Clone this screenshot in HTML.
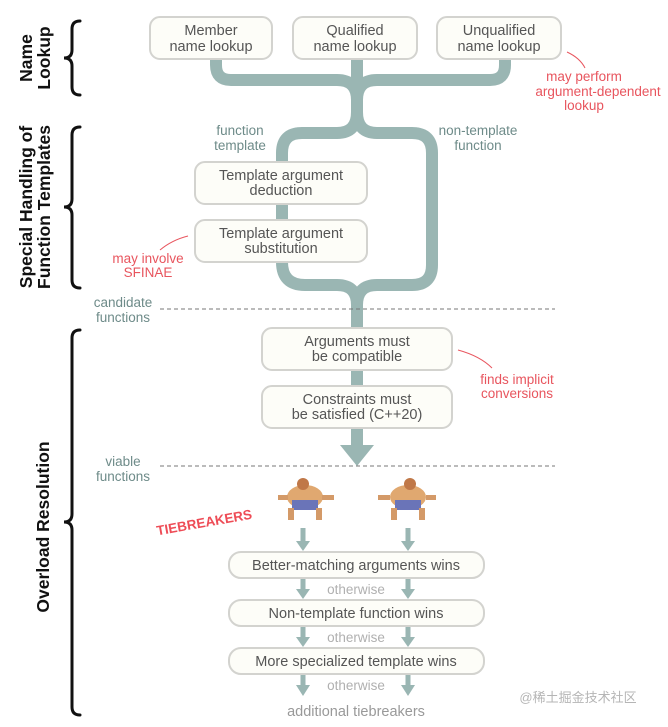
<!DOCTYPE html>
<html><head><meta charset="utf-8"><style>
html,body{margin:0;padding:0;background:#fff;width:668px;height:727px;overflow:hidden}
svg{display:block}
text{font-family:"Liberation Sans","Noto Sans CJK SC",sans-serif}
.bx{fill:#fdfdf8;stroke:#d3d3cf;stroke-width:2}
.t{fill:#555;font-size:14.5px;text-anchor:middle}
.g{fill:#6e8b89;font-size:13.5px;text-anchor:middle}
.r{fill:#e8555e;font-size:13.5px;text-anchor:middle}
.o{fill:#b0b0b0;font-size:13.5px;text-anchor:middle}
.p{fill:none;stroke:#9ab6b3;stroke-width:12}
.a{fill:none;stroke:#9ab6b3;stroke-width:5}
.ah{fill:#9ab6b3}
.br{fill:none;stroke:#111;stroke-width:3;stroke-linecap:round}
.lb{font-weight:bold;font-size:17.5px;fill:#111;text-anchor:middle}
</style></head><body>
<svg width="668" height="727" viewBox="0 0 668 727">
<path class="p" d="M216 58 V65 Q216 80 231 80 H337 Q357 80 357 100 M357 58 V112 M505 58 V65 Q505 80 490 80 H377 Q357 80 357 100"/>
<path class="p" d="M357 112 Q357 133 337 133 H302 Q282 133 282 153 V262 Q282 285 305 285 H337 Q357 285 357 305"/>
<path class="p" d="M357 112 Q357 133 377 133 H412 Q432 133 432 153 V265 Q432 285 412 285 H377 Q357 285 357 305"/>
<path class="p" d="M357 300 V448"/>
<polygon class="ah" points="340,445 374,445 357,466"/>
<line x1="160" y1="309" x2="555" y2="309" stroke="#777" stroke-dasharray="4,3" stroke-width="1"/>
<line x1="160" y1="466" x2="555" y2="466" stroke="#777" stroke-dasharray="4,3" stroke-width="1"/>
<rect class="bx" x="150" y="17" width="122" height="42" rx="10"/>
<rect class="bx" x="293" y="17" width="124" height="42" rx="10"/>
<rect class="bx" x="437" y="17" width="124" height="42" rx="10"/>
<text class="t" x="211" y="35">Member</text><text class="t" x="211" y="51">name lookup</text>
<text class="t" x="355" y="35">Qualified</text><text class="t" x="355" y="51">name lookup</text>
<text class="t" x="499" y="35">Unqualified</text><text class="t" x="499" y="51">name lookup</text>
<rect class="bx" x="195" y="162" width="172" height="42" rx="10"/>
<rect class="bx" x="195" y="220" width="172" height="42" rx="10"/>
<text class="t" x="281" y="180">Template argument</text><text class="t" x="281" y="195">deduction</text>
<text class="t" x="281" y="238">Template argument</text><text class="t" x="281" y="253">substitution</text>
<rect class="bx" x="262" y="328" width="190" height="42" rx="10"/>
<rect class="bx" x="262" y="386" width="190" height="42" rx="10"/>
<text class="t" x="357" y="346">Arguments must</text><text class="t" x="357" y="361">be compatible</text>
<text class="t" x="357" y="404">Constraints must</text><text class="t" x="357" y="419">be satisfied (C++20)</text>
<text class="g" x="240" y="135">function</text><text class="g" x="240" y="150">template</text>
<text class="g" x="478" y="135">non-template</text><text class="g" x="478" y="150">function</text>
<text class="g" x="123" y="307">candidate</text><text class="g" x="123" y="322">functions</text>
<text class="g" x="123" y="466">viable</text><text class="g" x="123" y="481">functions</text>
<path d="M567 52 Q580 58 585 68" fill="none" stroke="#e8555e" stroke-width="1"/>
<text class="r" x="584" y="81">may perform</text><text class="r" x="598" y="96">argument-dependent</text><text class="r" x="584" y="110">lookup</text>
<path d="M188 236 Q172 240 160 250" fill="none" stroke="#e8555e" stroke-width="1"/>
<text class="r" x="148" y="263">may involve</text><text class="r" x="148" y="277">SFINAE</text>
<path d="M458 350 Q480 356 492 368" fill="none" stroke="#e8555e" stroke-width="1"/>
<text class="r" x="517" y="384">finds implicit</text><text class="r" x="517" y="398">conversions</text>
<path class="br" d="M80 21 Q72 21 72 29 V50 Q72 58 64 58 Q72 58 72 66 V87 Q72 95 80 95"/>
<path class="br" d="M80 127 Q72 127 72 135 V199 Q72 207 64 207 Q72 207 72 215 V280 Q72 288 80 288"/>
<path class="br" d="M80 330 Q72 330 72 338 V514 Q72 522 64 522 Q72 522 72 530 V707 Q72 715 80 715"/>
<text class="lb" transform="translate(35,58) rotate(-90)"><tspan x="0" y="-3">Name</tspan><tspan x="0" y="15">Lookup</tspan></text>
<text class="lb" transform="translate(35,207) rotate(-90)"><tspan x="0" y="-3">Special Handling of</tspan><tspan x="0" y="15">Function Templates</tspan></text>
<text class="lb" transform="translate(49,527) rotate(-90)">Overload Resolution</text>
<g>
<ellipse cx="305" cy="497" rx="18" ry="12" fill="#e0a870"/>
<rect x="292" y="500" width="26" height="10" fill="#6a74b8"/>
<circle cx="303" cy="484" r="6" fill="#c07848"/>
<rect x="288" y="508" width="6" height="12" fill="#d49a68"/><rect x="316" y="508" width="6" height="12" fill="#d49a68"/>
<rect x="278" y="495" width="10" height="5" fill="#d49a68"/><rect x="322" y="495" width="12" height="5" fill="#d49a68"/>
</g>
<g>
<ellipse cx="408" cy="497" rx="18" ry="12" fill="#e0a870"/>
<rect x="395" y="500" width="26" height="10" fill="#6a74b8"/>
<circle cx="410" cy="484" r="6" fill="#c07848"/>
<rect x="391" y="508" width="6" height="12" fill="#d49a68"/><rect x="419" y="508" width="6" height="12" fill="#d49a68"/>
<rect x="378" y="495" width="12" height="5" fill="#d49a68"/><rect x="426" y="495" width="10" height="5" fill="#d49a68"/>
</g>
<text transform="translate(205,527) rotate(-10)" text-anchor="middle" font-weight="bold" font-size="13.5" fill="#ee4c56">TIEBREAKERS</text>
<g>
<path class="a" d="M303 528 V542 M408 528 V542 M303 578 V590 M408 578 V590 M303 626 V638 M408 626 V638 M303 674 V686 M408 674 V686"/>
<polygon class="ah" points="296,541 310,541 303,551"/><polygon class="ah" points="401,541 415,541 408,551"/>
<polygon class="ah" points="296,589 310,589 303,599"/><polygon class="ah" points="401,589 415,589 408,599"/>
<polygon class="ah" points="296,637 310,637 303,647"/><polygon class="ah" points="401,637 415,637 408,647"/>
<polygon class="ah" points="296,685 310,685 303,696"/><polygon class="ah" points="401,685 415,685 408,696"/>
</g>
<rect class="bx" x="229" y="552" width="255" height="26" rx="12"/>
<rect class="bx" x="229" y="600" width="255" height="26" rx="12"/>
<rect class="bx" x="229" y="648" width="255" height="26" rx="12"/>
<text class="t" x="356" y="570">Better-matching arguments wins</text>
<text class="t" x="356" y="618">Non-template function wins</text>
<text class="t" x="356" y="666">More specialized template wins</text>
<text class="o" x="356" y="594">otherwise</text>
<text class="o" x="356" y="642">otherwise</text>
<text class="o" x="356" y="690">otherwise</text>
<text class="t" x="356" y="716" style="fill:#999">additional tiebreakers</text>
<text x="578" y="702" font-size="13" fill="#b5b5b5" text-anchor="middle">@稀土掘金技术社区</text>
</svg>
</body></html>
